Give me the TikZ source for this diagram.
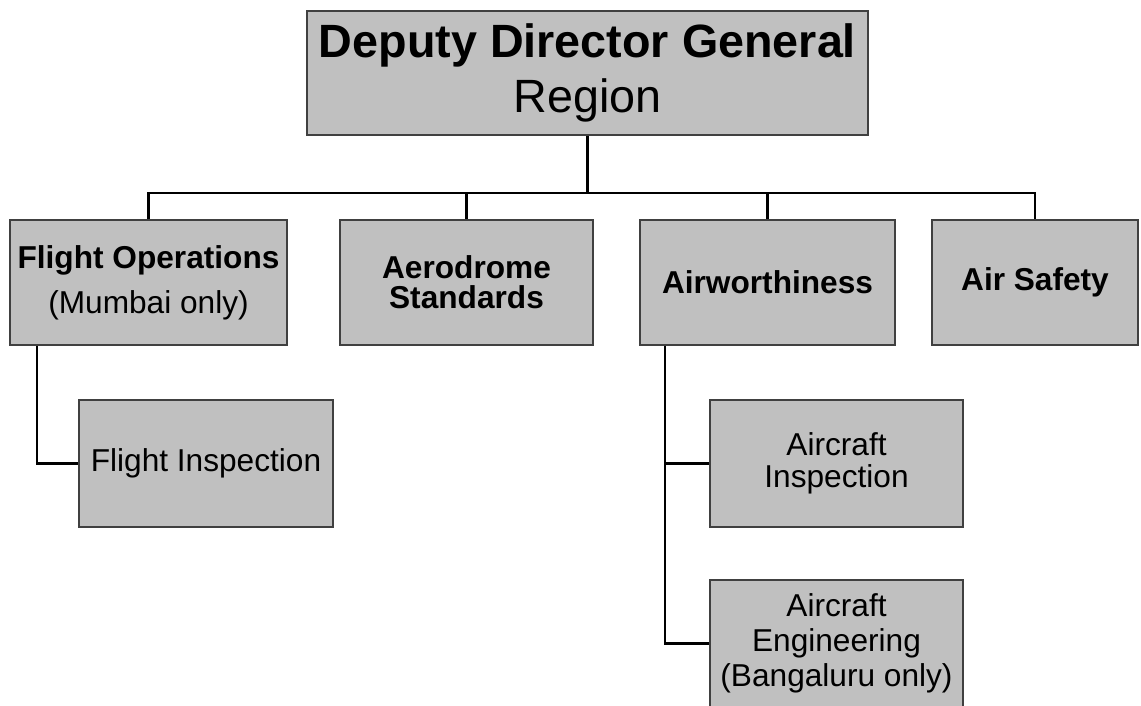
\documentclass[tikz,border=0pt]{standalone}
\usepackage{fontspec}
\setmainfont{Liberation Sans}
\definecolor{boxfill}{HTML}{C0C0C0}
\definecolor{boxedge}{HTML}{404040}
\begin{document}
\begin{tikzpicture}[x=0.025cm, y=-0.025cm]
		\tikzstyle{unit} = [rectangle, fill=boxfill, draw=boxedge, line width=1.1pt, inner sep=0pt, align=center, minimum height=3.125cm, font=\fontsize{22.5}{23}\selectfont]
		\tikzstyle{link} = [line width=1.6pt, black]
		\useasboundingbox (0,0) rectangle (1141,705);
		
		\node (ddg) [unit, minimum width=14.03cm, minimum height=3.1cm, font=\fontsize{33.2}{39}\selectfont] at (587.5,73) {\textbf{Deputy Director General}\\Region};
		\node (fo) [unit, minimum width=6.93cm] at (148.5,282.5) {\textbf{Flight Operations}\\[9pt](Mumbai only)};
		\node (ads) [unit, minimum width=6.33cm, font=\fontsize{22.5}{21.5}\selectfont\bfseries] at (466.5,282.5) {Aerodrome\\Standards};
		\node (aw) [unit, minimum width=6.38cm, font=\fontsize{22.5}{23}\selectfont\bfseries] at (767.5,282.5) {Airworthiness};
		\node (as) [unit, minimum width=5.15cm, font=\fontsize{22.5}{23}\selectfont\bfseries] at (1035,282.5) {Air Safety};
		\node (fi) [unit, minimum width=6.35cm, minimum height=3.175cm] at (206,463.5) {Flight Inspection};
		\node (ai) [unit, minimum width=6.33cm, minimum height=3.175cm] at (836.5,463.5) {Aircraft\\Inspection};
		\node (ae) [unit, minimum width=6.33cm, minimum height=3.175cm, font=\fontsize{22.5}{25}\selectfont] at (836.5,643.5) {Aircraft\\Engineering\\(Bangaluru only)};
		
		\coordinate (bus) at (587.5,193);
		\draw [link] (ddg) -- (bus);
		\foreach \n in {fo,ads,aw,as}
			\draw [link] (bus) -| (\n.north);
		\draw [link] ([xshift=0.7cm]fo.south west) |- (fi.west);
		\draw [link] ([xshift=0.65cm]aw.south west) |- (ai.west);
		\draw [link] ([xshift=0.65cm]aw.south west) |- (ae.west);
	\end{tikzpicture}
\end{document}
